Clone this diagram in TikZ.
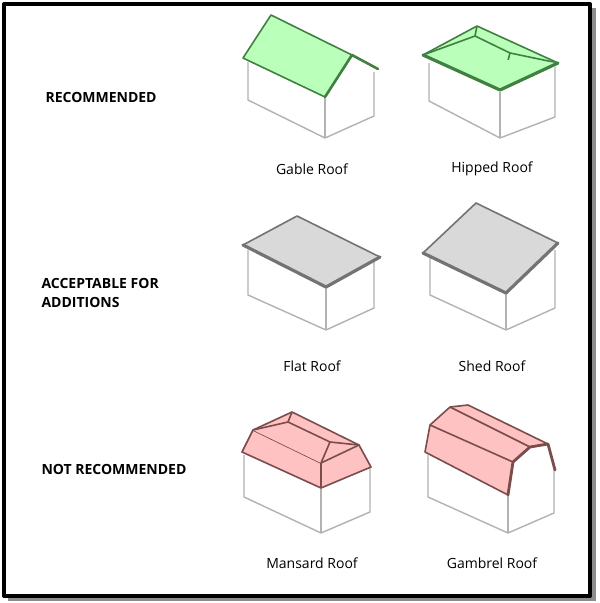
\documentclass[tikz,border=0pt]{standalone}
\usepackage{fontspec}
\setmainfont{Open Sans}
\usetikzlibrary{positioning}

\begin{document}
\begin{tikzpicture}[x=1pt,y=-1pt,line join=round]

    %
    % Styles for walls, roofs and labels
    %
    \tikzstyle{wall} = [draw=black!30, line width=1.4pt]
    \tikzstyle{greenRoof} = [draw=black!50!green!50!gray, fill=green!30!white!90, line width=1.6pt]
    \tikzstyle{grayRoof} = [draw=black!55, fill=black!15, line width=1.6pt]
    \tikzstyle{redRoof} = [draw=black!55!red!40!gray, fill=red!25!white!95, line width=1.6pt]
    \tikzstyle{eave} = [line width=3.2pt, line cap=round]
    \tikzstyle{rowName} = [anchor=west, align=left, font={\bfseries\fontsize{14}{19}\selectfont}]
    \tikzstyle{roofName} = [font={\fontsize{14}{17}\selectfont}]

    \useasboundingbox (0,0) rectangle (600,603);
    \fill[black!45] (8,8) rectangle (596,601);
    \draw[line width=4pt, fill=white] (4,4) rectangle (590,596);

    %
    % Row names
    %
    \node[rowName] (recommended) at (42,97) {RECOMMENDED};
    \node[rowName] (acceptable) at (38,293) {ACCEPTABLE FOR\\ADDITIONS};
    \node[rowName] (notRecommended) at (38,469) {NOT RECOMMENDED};

    %
    % Gable roof
    %
    \draw[wall] (248,62) -- (248,100) -- (325,138) -- (374,116) -- (374,72);
    \draw[wall] (325,97) -- (325,138);
    \draw[greenRoof] (243,58) -- (271,15) -- (352,55) -- (325,97) -- cycle;
    \draw[greenRoof, fill=none, line width=2.6pt, line cap=round] (325,97) -- (352,55) -- (378,69);
    \node[roofName] (gable) at (312,169) {Gable Roof};

    %
    % Hipped roof
    %
    \draw[wall] (429,63) -- (429,101) -- (500,138) -- (555,117) -- (555,67);
    \draw[wall] (500,92) -- (500,138);
    \draw[greenRoof] (423,55) -- (477,26) -- (558,63) -- (500,90) -- cycle;
    \draw[greenRoof] (423,55) -- (475,36) -- (510,53) -- (500,90);
    \draw[greenRoof] (475,36) -- (477,26);
    \draw[greenRoof] (510,53) -- (558,63);
    \draw[greenRoof, eave] (423,55) -- (500,90) -- (558,63);
    \node[roofName] (hipped) at (492,169) {Hipped Roof};

    %
    % Flat roof
    %
    \draw[wall] (248,250) -- (248,295) -- (326,330) -- (374,308) -- (374,260);
    \draw[wall] (326,287) -- (326,330);
    \draw[grayRoof] (243,245) -- (297,216) -- (380,257) -- (326,287) -- cycle;
    \draw[grayRoof, eave] (243,245) -- (326,287) -- (380,257);
    \node[roofName] (flat) at (312,366) {Flat Roof};

    %
    % Shed roof
    %
    \draw[wall] (430,258) -- (430,295) -- (506,330) -- (555,308) -- (555,250);
    \draw[wall] (506,293) -- (506,330);
    \draw[grayRoof] (423,253) -- (476,203) -- (558,243) -- (506,293) -- cycle;
    \draw[grayRoof, eave] (423,253) -- (506,293) -- (558,243);
    \node[roofName] (shed) at (492,366) {Shed Roof};

    %
    % Mansard roof
    %
    \draw[wall] (244,455) -- (244,497) -- (321,533) -- (370,512) -- (370,467);
    \draw[wall] (321,488) -- (321,533);
    \draw[redRoof] (242,452) -- (253,430) -- (292,412) -- (359,445) -- (371,467) -- (321,488) -- cycle;
    \draw[redRoof] (253,430) -- (321,463) -- (359,445);
    \draw[redRoof] (321,463) -- (321,488);
    \draw[redRoof] (253,430) -- (288,422) -- (330,442) -- (321,463);
    \draw[redRoof] (288,422) -- (292,412);
    \draw[redRoof] (330,442) -- (359,445);
    \node[roofName] (mansard) at (312,563) {Mansard Roof};

    %
    % Gambrel roof
    %
    \draw[wall] (428,455) -- (428,497) -- (508,533) -- (554,513) -- (554,470);
    \draw[wall] (508,495) -- (508,533);
    \draw[redRoof] (425,452) -- (430,425) -- (450,407) -- (468,405) -- (548,444)
      -- (530,447) -- (513,462) -- (508,495) -- cycle;
    \draw[redRoof] (430,425) -- (513,462);
    \draw[redRoof] (450,407) -- (530,447);
    \draw[redRoof, fill=none, line width=2.8pt, line cap=round] (508,495) -- (513,462) -- (530,447)
      -- (548,444) -- (555,470);
    \node[roofName] (gambrel) at (492,563) {Gambrel Roof};

  \end{tikzpicture}
\end{document}
